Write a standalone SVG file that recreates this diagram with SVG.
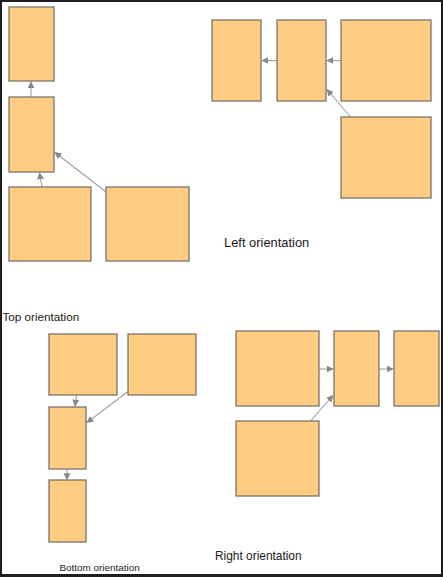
<svg xmlns="http://www.w3.org/2000/svg" width="443" height="577" viewBox="0 0 443 577">
<defs>
<marker id="ah" viewBox="0 0 10 10" refX="9" refY="5" markerWidth="7" markerHeight="7" markerUnits="userSpaceOnUse" orient="auto">
<path d="M0,0 L10,5 L0,10 z" fill="#888"/>
</marker>
</defs>
<style>
.n{fill:#FFCC84;stroke:#7b7666;stroke-width:1.3}
.c{stroke:#a0a0a0;stroke-width:1.1;fill:none;marker-end:url(#ah)}
.t{font-family:"Liberation Sans",Arial,sans-serif;fill:#1a1a1a}
</style>
<rect x="0" y="0" width="443" height="577" fill="#1e1e1e"/>
<rect x="2" y="2" width="439" height="572" fill="#ffffff"/>
<g id="connectors">
<line class="c" x1="31" y1="97" x2="31" y2="82"/>
<line class="c" x1="42" y1="187" x2="39.5" y2="173"/>
<line class="c" x1="105.5" y1="191.5" x2="55" y2="152.5"/>
<line class="c" x1="341" y1="60.5" x2="327" y2="60.5"/>
<line class="c" x1="277" y1="60.5" x2="262" y2="60.5"/>
<line class="c" x1="350.5" y1="117" x2="327" y2="89.5"/>
<line class="c" x1="76.5" y1="395.5" x2="75" y2="406"/>
<line class="c" x1="128" y1="391.5" x2="87" y2="422.5"/>
<line class="c" x1="67" y1="469" x2="67" y2="479.5"/>
<line class="c" x1="319" y1="369" x2="333" y2="369"/>
<line class="c" x1="379" y1="369" x2="393" y2="369"/>
<line class="c" x1="310.5" y1="421" x2="333" y2="395.5"/>
</g>
<g id="top1"><rect class="n" x="9" y="7" width="45" height="74"/></g>
<g id="top2"><rect class="n" x="9" y="97" width="45" height="75"/></g>
<g id="top3"><rect class="n" x="9" y="187" width="82" height="74"/></g>
<g id="top4"><rect class="n" x="106" y="187" width="83" height="74"/></g>
<g id="left1"><rect class="n" x="212" y="20" width="49" height="81"/></g>
<g id="left2"><rect class="n" x="277" y="20" width="49" height="81"/></g>
<g id="left3"><rect class="n" x="341" y="20" width="90" height="81"/></g>
<g id="left4"><rect class="n" x="341" y="117" width="90" height="81"/></g>
<g id="bottom1"><rect class="n" x="49" y="334" width="68" height="61"/></g>
<g id="bottom2"><rect class="n" x="128" y="334" width="68" height="61"/></g>
<g id="bottom3"><rect class="n" x="49" y="407" width="37" height="62"/></g>
<g id="bottom4"><rect class="n" x="49" y="480" width="37" height="62"/></g>
<g id="right1"><rect class="n" x="236" y="331" width="83" height="75"/></g>
<g id="right2"><rect class="n" x="334" y="331" width="45" height="75"/></g>
<g id="right3"><rect class="n" x="394" y="331" width="45" height="75"/></g>
<g id="right4"><rect class="n" x="236" y="421" width="83" height="75"/></g>
<text class="t" x="224" y="246.5" font-size="12.9">Left orientation</text>
<text class="t" x="2.5" y="320.5" font-size="11.7">Top orientation</text>
<text class="t" x="59.5" y="571" font-size="9.9">Bottom orientation</text>
<text class="t" x="215" y="559.5" font-size="11.9">Right orientation</text>
</svg>
